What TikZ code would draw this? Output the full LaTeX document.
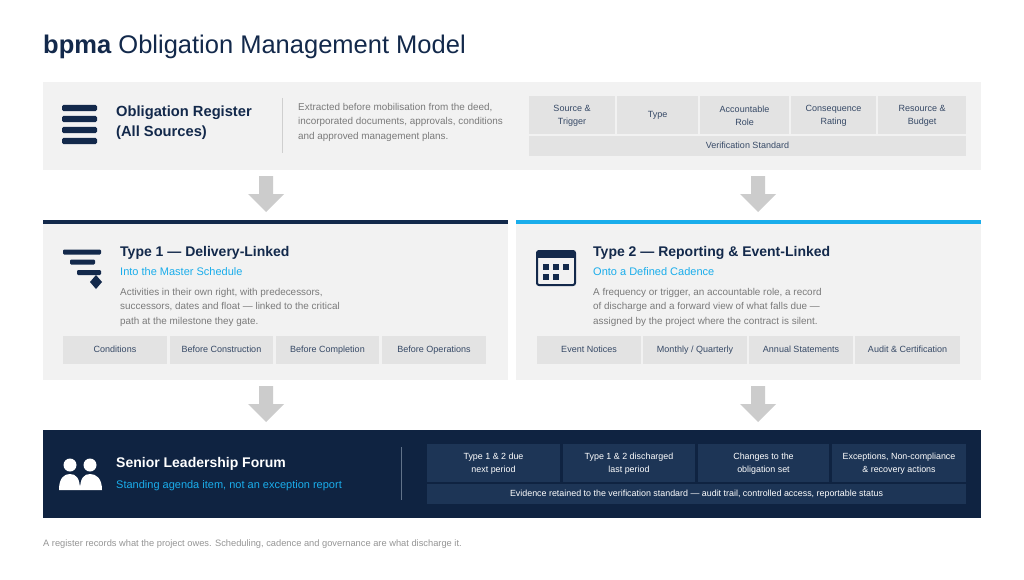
\documentclass[tikz,border=0pt]{standalone}
\usepackage{fontspec}
\setmainfont{Liberation Sans}
\begin{document}
\definecolor{navy}{HTML}{13294B}
\definecolor{dnavy}{HTML}{0F2341}
\definecolor{cellnavy}{HTML}{1D3556}
\definecolor{sky}{HTML}{1AADEB}
\definecolor{panel}{HTML}{F2F2F2}
\definecolor{chip}{HTML}{E3E3E3}
\definecolor{txtgray}{HTML}{7A7A7A}
\definecolor{arr}{HTML}{CCCCCC}
\begin{tikzpicture}[x=1pt,y=-1pt,
  ctext/.style={font=\fontsize{9}{13}\selectfont,text=navy!85,align=center},
  ctext1/.style={ctext,text height=7,text depth=2},
  ntext/.style={font=\fontsize{8.9}{12.5}\selectfont,text=white,align=center},
  body/.style={font=\fontsize{9.9}{14.5}\selectfont,text=txtgray,anchor=north west,align=left,inner sep=0},
  head/.style={font=\bfseries\fontsize{14}{17}\selectfont,text=navy,anchor=base west,inner sep=0},
  sub/.style={font=\fontsize{11}{13}\selectfont,text=sky,anchor=base west,inner sep=0}]
\useasboundingbox (0,0) rectangle (1024,580);
\fill[white] (0,0) rectangle (1024,580);
% title
\node[anchor=base west,inner sep=0,font=\fontsize{25.5}{28}\selectfont,text=navy] (title) at (43,54) {\textbf{bpma} Obligation Management Model};
% register
\fill[panel] (43,82) rectangle (981,170);
\foreach \yy in {108,119,130,141}{\fill[navy,rounded corners=1.5] (62,\yy-3.2) rectangle (97,\yy+3.2);}
\node[head,font=\bfseries\fontsize{14.7}{20}\selectfont,anchor=north west,align=left] (reg) at (116,106) {Obligation Register\\(All Sources)};
\draw[chip!80!gray,line width=0.8] (282,98) -- (282,153);
\node[body] (regdesc) at (298,103) {Extracted before mobilisation from the deed,\\incorporated documents, approvals, conditions\\and approved management plans.};
\foreach \a/\b/\t [count=\i] in {529/615/{Source \&\\Trigger},617/698/{Type},700/789/{Accountable\\Role},791/876/{Consequence\\Rating},878/966/{Resource \&\\Budget}}{
  \fill[chip] (\a,96) rectangle (\b,134);
  \node[ctext] (r\i) at ({(\a+\b)/2},115.5) {\t};}
\fill[chip] (529,136) rectangle (966,156);
\node[ctext1] (rv) at (747.5,146) {Verification Standard};
% arrows
\foreach \xx/\yy in {266/176,758/176,266/386,758/386}{
  \fill[arr] (\xx-7,\yy) -- (\xx+7,\yy) -- (\xx+7,\yy+18) -- (\xx+18,\yy+18) -- (\xx,\yy+36) -- (\xx-18,\yy+18) -- (\xx-7,\yy+18) -- cycle;}
% Type 1
\fill[panel] (43,220) rectangle (508,380);
\fill[navy] (43,220) rectangle (508,224);
\fill[navy,rounded corners=1.2] (63,249.5) rectangle (101,254.5);
\fill[navy,rounded corners=1.2] (70,259.5) rectangle (95,264.5);
\fill[navy,rounded corners=1.2] (77,270) rectangle (101,275);
\fill[navy] (96,275) -- (102,282) -- (96,289) -- (90,282) -- cycle;
\node[head] (t1) at (120,256) {Type 1 — Delivery-Linked};
\node[sub] (t1s) at (120,275) {Into the Master Schedule};
\node[body] (t1b) at (120,288) {Activities in their own right, with predecessors,\\successors, dates and float — linked to the critical\\path at the milestone they gate.};
\foreach \a/\b/\t [count=\i] in {63/167/{Conditions},170/273/{Before Construction},276/379/{Before Completion},382/486/{Before Operations}}{
  \fill[chip] (\a,336) rectangle (\b,364);
  \node[ctext1] (c\i) at ({(\a+\b)/2},350) {\t};}
% Type 2
\fill[panel] (516,220) rectangle (981,380);
\fill[sky] (516,220) rectangle (981,224);
\draw[navy,line width=2,rounded corners=2] (537,251) rectangle (575,285);
\fill[navy] (537,251) rectangle (575,258);
\foreach \px/\py in {543/264,553/264,563/264,543/274,553/274}{\fill[navy] (\px,\py) rectangle (\px+6,\py+6);}
\node[head] (t2) at (593,256) {Type 2 — Reporting \& Event-Linked};
\node[sub] (t2s) at (593,275) {Onto a Defined Cadence};
\node[body] (t2b) at (593,288) {A frequency or trigger, an accountable role, a record\\of discharge and a forward view of what falls due —\\assigned by the project where the contract is silent.};
\foreach \a/\b/\t [count=\i] in {537/641/{Event Notices},643/747/{Monthly / Quarterly},749/853/{Annual Statements},855/960/{Audit \& Certification}}{
  \fill[chip] (\a,336) rectangle (\b,364);
  \node[ctext1] (d\i) at ({(\a+\b)/2},350) {\t};}
% Bottom
\fill[dnavy] (43,430) rectangle (981,518);
\fill[white] (70,465) circle (6.5);
\fill[white] (90,465) circle (6.5);
\fill[white] (59,490) .. controls (59,478) and (64,474) .. (70,474) .. controls (76,474) and (80,478) .. (80,490) -- cycle;
\fill[white] (80,490) .. controls (80,478) and (84,474) .. (90,474) .. controls (96,474) and (102,478) .. (102,490) -- cycle;
\node[head,text=white] (slf) at (116,467) {Senior Leadership Forum};
\node[sub] (slfs) at (116,488) {Standing agenda item, not an exception report};
\draw[cellnavy!70!white,line width=0.8] (401,447) -- (401,500);
\foreach \a/\b/\t [count=\i] in {427/560/{Type 1 \& 2 due\\next period},563/695/{Type 1 \& 2 discharged\\last period},698/829/{Changes to the\\obligation set},832/966/{Exceptions, Non-compliance\\\& recovery actions}}{
  \fill[cellnavy] (\a,444) rectangle (\b,482);
  \node[ntext] (e\i) at ({(\a+\b)/2},463.5) {\t};}
\fill[cellnavy] (427,484) rectangle (966,504);
\node[ntext,text height=7,text depth=2] (ev) at (696.5,494) {Evidence retained to the verification standard — audit trail, controlled access, reportable status};
\node[anchor=base west,inner sep=0,font=\fontsize{9.3}{10}\selectfont,text=txtgray!80] (foot) at (43,546) {A register records what the project owes. Scheduling, cadence and governance are what discharge it.};
\end{tikzpicture}
\end{document}
